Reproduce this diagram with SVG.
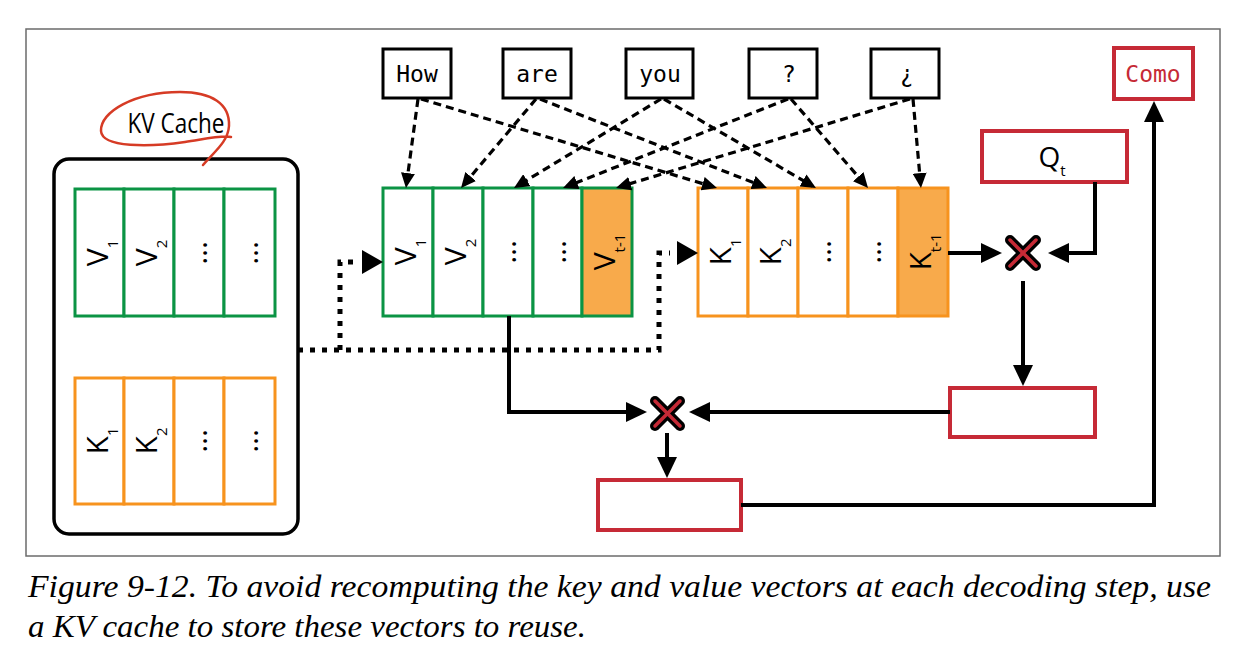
<svg xmlns="http://www.w3.org/2000/svg" width="1244" height="672" viewBox="0 0 1244 672">
<defs>
<style>
.frame{fill:none;stroke:#6b6b6b;stroke-width:1.5}
.tok{fill:#fff;stroke:#000;stroke-width:3}
.tokt{font-family:"DejaVu Sans Mono","Liberation Mono",monospace;font-size:23px;fill:#000;text-anchor:middle}
.red{fill:#fff;stroke:#c62a36;stroke-width:4}
.gcell{fill:#fff;stroke:#0b9444;stroke-width:3}
.ocell{fill:#fff;stroke:#f7931e;stroke-width:3}
.hot{fill:#f8aa4b}
.ct{font-family:"Open Sans","Noto Sans",sans-serif;font-size:30px;fill:#000;text-anchor:middle}
.sub{font-size:15px}
.solid{fill:none;stroke:#000;stroke-width:4}
.dash{fill:none;stroke:#000;stroke-width:3.2;stroke-dasharray:8 5}
.dot{fill:none;stroke:#000;stroke-width:5;stroke-dasharray:5 7}
.xo{stroke:#000;stroke-width:10;stroke-linecap:round}
.xi{stroke:#c62a36;stroke-width:3.5;stroke-linecap:round}
.cap{font-family:"Liberation Serif","Times New Roman",serif;font-style:italic;font-size:31px;fill:#000}
</style>
<marker id="ah" viewBox="0 0 21 20" refX="15" refY="10" markerWidth="21" markerHeight="20" markerUnits="userSpaceOnUse" orient="auto"><path d="M0,0 L21,10 L0,20 z" fill="#000"/></marker>
<marker id="dh" viewBox="0 0 15 14" refX="11" refY="7" markerWidth="15" markerHeight="14" markerUnits="userSpaceOnUse" orient="auto"><path d="M0,0 L15,7 L0,14 z" fill="#000"/></marker>
</defs>
<rect width="1244" height="672" fill="#fff"/>
<rect class="frame" x="26" y="29" width="1194" height="527"/>

<g id="kv-cache">
<rect x="54" y="159" width="244" height="375" rx="15" fill="#fff" stroke="#000" stroke-width="3.5"/>
<text x="176" y="133" font-family="Open Sans, Noto Sans, sans-serif" font-size="27" text-anchor="middle" textLength="97" lengthAdjust="spacingAndGlyphs">KV Cache</text>
<path d="M203,165 C214,152 228,142 229,126 C230,104 212,92 180,92 C134,92 100,112 101,131 C102,148 150,147 185,142 C205,139 222,135 231,137" fill="none" stroke="#d63b25" stroke-width="2.5" stroke-linecap="round"/>
<g id="cache-v">
<rect class="gcell" x="75" y="189" width="49" height="127"/>
<rect class="gcell" x="124" y="189" width="50" height="127"/>
<rect class="gcell" x="174" y="189" width="50" height="127"/>
<rect class="gcell" x="224" y="189" width="51" height="127"/>
<text class="ct" transform="translate(99.5,253) rotate(-90)" y="8">V<tspan class="sub" dy="10">1</tspan></text>
<text class="ct" transform="translate(149,253) rotate(-90)" y="8">V<tspan class="sub" dy="10">2</tspan></text>
<text class="ct" transform="translate(199,253) rotate(-90)" y="8">...</text>
<text class="ct" transform="translate(249.5,253) rotate(-90)" y="8">...</text>
</g>
<g id="cache-k">
<rect class="ocell" x="75" y="378" width="49" height="126"/>
<rect class="ocell" x="124" y="378" width="50" height="126"/>
<rect class="ocell" x="174" y="378" width="50" height="126"/>
<rect class="ocell" x="224" y="378" width="51" height="126"/>
<text class="ct" transform="translate(99.5,441) rotate(-90)" y="8">K<tspan class="sub" dy="10">1</tspan></text>
<text class="ct" transform="translate(149,441) rotate(-90)" y="8">K<tspan class="sub" dy="10">2</tspan></text>
<text class="ct" transform="translate(199,441) rotate(-90)" y="8">...</text>
<text class="ct" transform="translate(249.5,441) rotate(-90)" y="8">...</text>
</g>
</g>

<g id="tok-how"><rect class="tok" x="383" y="49" width="68" height="49"/><text class="tokt" x="417" y="82">How</text></g>
<g id="tok-are"><rect class="tok" x="503" y="49" width="68" height="49"/><text class="tokt" x="537" y="82">are</text></g>
<g id="tok-you"><rect class="tok" x="626" y="49" width="67" height="49"/><text class="tokt" x="660" y="82">you</text></g>
<g id="tok-q"><rect class="tok" x="749" y="49" width="68" height="49"/><text class="tokt" x="789" y="82">?</text></g>
<g id="tok-iq"><rect class="tok" x="871" y="49" width="68" height="49"/><text class="tokt" x="907" y="82">¿</text></g>

<g id="v-block">
<rect class="gcell" x="383" y="188" width="50" height="128"/>
<rect class="gcell" x="433" y="188" width="50" height="128"/>
<rect class="gcell" x="483" y="188" width="50" height="128"/>
<rect class="gcell" x="533" y="188" width="49" height="128"/>
<rect class="gcell hot" x="582" y="188" width="50" height="128"/>
<text class="ct" transform="translate(408,252) rotate(-90)" y="8">V<tspan class="sub" dy="10">1</tspan></text>
<text class="ct" transform="translate(458,252) rotate(-90)" y="8">V<tspan class="sub" dy="10">2</tspan></text>
<text class="ct" transform="translate(508,252) rotate(-90)" y="8">...</text>
<text class="ct" transform="translate(557.5,252) rotate(-90)" y="8">...</text>
<text class="ct" transform="translate(607,252) rotate(-90)" y="8">V<tspan class="sub" dy="10">t-1</tspan></text>
</g>

<g id="k-block">
<rect class="ocell" x="698" y="188" width="50" height="128"/>
<rect class="ocell" x="748" y="188" width="50" height="128"/>
<rect class="ocell" x="798" y="188" width="50" height="128"/>
<rect class="ocell" x="848" y="188" width="50" height="128"/>
<rect class="ocell hot" x="898" y="188" width="50" height="128"/>
<text class="ct" transform="translate(723,252) rotate(-90)" y="8">K<tspan class="sub" dy="10">1</tspan></text>
<text class="ct" transform="translate(773,252) rotate(-90)" y="8">K<tspan class="sub" dy="10">2</tspan></text>
<text class="ct" transform="translate(823,252) rotate(-90)" y="8">...</text>
<text class="ct" transform="translate(873,252) rotate(-90)" y="8">...</text>
<text class="ct" transform="translate(923,252) rotate(-90)" y="8">K<tspan class="sub" dy="10">t-1</tspan></text>
</g>

<g id="como"><rect class="red" x="1114" y="48" width="79" height="51"/><text class="tokt" x="1153" y="82" style="fill:#c62a36">Como</text></g>
<g id="qt"><rect class="red" x="982" y="131" width="145" height="51"/><text class="ct" x="1052" y="167" style="font-size:28px">Q<tspan class="sub" dy="9">t</tspan></text></g>
<g id="scores"><rect class="red" x="950" y="388" width="145" height="49"/></g>
<g id="output"><rect class="red" x="598" y="480" width="143" height="50"/></g>

<g id="mult1"><line class="xo" x1="1010" y1="240" x2="1036" y2="266"/><line class="xo" x1="1036" y1="240" x2="1010" y2="266"/><line class="xi" x1="1010" y1="240" x2="1036" y2="266"/><line class="xi" x1="1036" y1="240" x2="1010" y2="266"/></g>
<g id="mult2"><line class="xo" x1="655" y1="401" x2="680" y2="426"/><line class="xo" x1="680" y1="401" x2="655" y2="426"/><line class="xi" x1="655" y1="401" x2="680" y2="426"/><line class="xi" x1="680" y1="401" x2="655" y2="426"/></g>

<g id="connectors">
<path class="dash" marker-end="url(#dh)" d="M418,99 L406.5,184"/>
<path class="dash" marker-end="url(#dh)" d="M421,99 L713.2,186.8"/>
<path class="dash" marker-end="url(#dh)" d="M536,99 L463.6,184.9"/>
<path class="dash" marker-end="url(#dh)" d="M540,99 L763.3,186.5"/>
<path class="dash" marker-end="url(#dh)" d="M661,99 L517.4,185.9"/>
<path class="dash" marker-end="url(#dh)" d="M664,99 L812.5,186"/>
<path class="dash" marker-end="url(#dh)" d="M788,99 L566.7,186.5"/>
<path class="dash" marker-end="url(#dh)" d="M791,99 L865.4,185"/>
<path class="dash" marker-end="url(#dh)" d="M910,99 L619.8,186.8"/>
<path class="dash" marker-end="url(#dh)" d="M913,99 L920.6,184"/>

<path class="dot" d="M298,350 H659 V253 H670"/>
<path class="dot" d="M340,350 V262 H356"/>
<polygon points="362,250 383,262 362,274" fill="#000"/>
<polygon points="677,241 698,253 677,265" fill="#000"/>

<path class="solid" marker-end="url(#ah)" d="M948,253 H996"/>
<path class="solid" marker-end="url(#ah)" d="M1095,182 V253 H1054"/>
<path class="solid" marker-end="url(#ah)" d="M1023,281 V380"/>
<path class="solid" marker-end="url(#ah)" d="M950,412 H695"/>
<path class="solid" marker-end="url(#ah)" d="M509,316 V412 H641"/>
<path class="solid" marker-end="url(#ah)" d="M667,433 V472"/>
<path class="solid" marker-end="url(#ah)" d="M741,505 H1154 V107"/>
</g>

<text class="cap" x="28" y="597" textLength="1183" lengthAdjust="spacingAndGlyphs">Figure 9-12. To avoid recomputing the key and value vectors at each decoding step, use</text>
<text class="cap" x="28" y="637" textLength="558" lengthAdjust="spacingAndGlyphs">a KV cache to store these vectors to reuse.</text>
</svg>
